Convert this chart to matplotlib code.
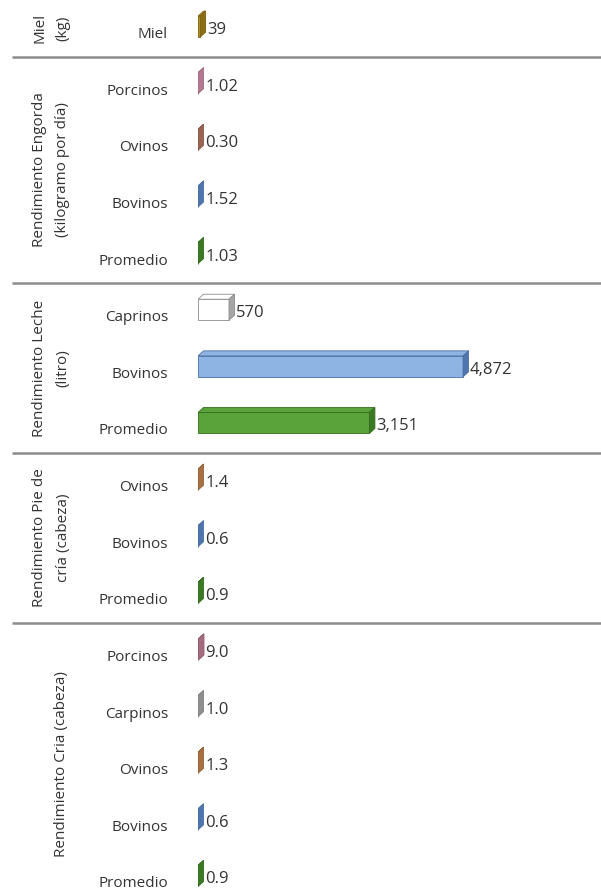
import matplotlib.pyplot as plt
from matplotlib.patches import Polygon
from matplotlib.transforms import blended_transform_factory, offset_copy

plt.rcParams['font.family'] = ['Open Sans', 'DejaVu Sans']

# grupos del eje vertical (cada linea del titulo por separado)
grupos = [["Miel", "(kg)"],
          ["Rendimiento Engorda", "(kilogramo por día)"],
          ["Rendimiento Leche", "(litro)"],
          ["Rendimiento Pie de", "cría (cabeza)"],
          ["Rendimiento Cria (cabeza)"]]

miel_cat = ["Miel"]
miel_val = [39]
engorda_cat = ["Porcinos", "Ovinos", "Bovinos", "Promedio"]
engorda_val = [1.02, 0.30, 1.52, 1.03]
leche_cat = ["Caprinos", "Bovinos", "Promedio"]
leche_val = [570, 4872, 3151]
pie_cat = ["Ovinos", "Bovinos", "Promedio"]
pie_val = [1.4, 0.6, 0.9]
cria_cat = ["Porcinos", "Carpinos", "Ovinos", "Bovinos", "Promedio"]
cria_val = [9.0, 1.0, 1.3, 0.6, 0.9]

formatos = ["{:,.0f}", "{:.2f}", "{:,.0f}", "{:.1f}", "{:.1f}"]

# colores (frente, lateral, borde) por grupo y categoria
colores = {
    ("Miel", 0): ("#c9a227", "#8a6d14", "#7a5f10"),
    ("Porcinos", 1): ("#d49bb0", "#b47890", "#a06a80"),
    ("Ovinos", 1): ("#c08a78", "#9a6450", "#8a5848"),
    ("Caprinos", 2): ("#ffffff", "#a6a6a6", "#8c8c8c"),
    ("Ovinos", 3): ("#d39a62", "#a8703f", "#946236"),
    ("Ovinos", 4): ("#d39a62", "#a8703f", "#946236"),
    ("Porcinos", 4): ("#c88aa0", "#a56b80", "#935d70"),
    ("Carpinos", 4): ("#c4c4c4", "#8f8f8f", "#808080"),
    ("Bovinos", None): ("#8db4e2", "#4f75ad", "#4a6fa5"),
    ("Promedio", None): ("#5aa33a", "#3b7a22", "#356d1e"),
}

W, H, DPI = 601, 892, 100
ESCALA = 0.0544          # px por unidad
X0 = 198                 # px donde empieza la barra
BOTTOM_PX = 906          # el area del grafico sigue por debajo del borde

categorias = [miel_cat, engorda_cat, leche_cat, pie_cat, cria_cat]
valores = [miel_val, engorda_val, leche_val, pie_val, cria_val]
n_filas = sum(len(c) for c in categorias)

fig = plt.figure(figsize=(W / DPI, H / DPI), dpi=DPI)
ax = fig.add_axes([X0 / W, (H - BOTTOM_PX) / H, (W - X0) / W, BOTTOM_PX / H])
ax.set_xlim(0, (W - X0) / ESCALA)
ax.set_ylim(n_filas - 0.5, -0.5)
ax.axis('off')

px_fila = BOTTOM_PX / n_filas
dx = 5.5 / ESCALA
dy = 5.0 / px_fila
alto = 21.0 / px_fila

trans_fig = blended_transform_factory(fig.transFigure, ax.transData)
trans_val = offset_copy(ax.transData, fig=fig, x=7, y=0, units='dots')
gris = "#333333"


def barra3d(y, v, frente, lado, borde):
    yc = y - 0.03
    top, bot = yc - alto / 2, yc + alto / 2
    ax.add_patch(Polygon([(0, bot), (v, bot), (v, top), (0, top)],
                         closed=True, fc=frente, ec=borde, lw=0.6, zorder=2))
    ax.add_patch(Polygon([(0, top), (v, top), (v + dx, top - dy), (dx, top - dy)],
                         closed=True, fc=frente, ec=borde, lw=0.6, zorder=2))
    ax.add_patch(Polygon([(v, bot), (v + dx, bot - dy), (v + dx, top - dy), (v, top)],
                         closed=True, fc=lado, ec=borde, lw=0.6, zorder=3))


fila = 0
for g, (cats, vals) in enumerate(zip(categorias, valores)):
    inicio = fila
    for cat, v in zip(cats, vals):
        clave = (cat, g) if (cat, g) in colores else (cat, None)
        barra3d(fila, v, *colores[clave])
        ax.text(168 / W, fila + 0.11, cat, transform=trans_fig, ha='right',
                va='center', fontsize=11, color=gris)
        ax.text(v, fila + 0.03, formatos[g].format(v), transform=trans_val,
                ha='left', va='center', fontsize=12, color=gris)
        fila += 1
    centro = (inicio + fila - 1) / 2
    lineas = grupos[g]
    xs = [40, 63] if len(lineas) == 2 else [62]
    for xl, t in zip(xs, lineas):
        ax.text(xl / W, centro, t, transform=trans_fig, rotation=90,
                ha='center', va='center', fontsize=11, color=gris)
    if fila < n_filas:
        ax.plot([12 / W, 1], [fila - 0.5, fila - 0.5], transform=trans_fig,
                color="#8c8c8c", lw=1.8, clip_on=False, solid_capstyle='butt')

fig.savefig("out.png", dpi=DPI)
